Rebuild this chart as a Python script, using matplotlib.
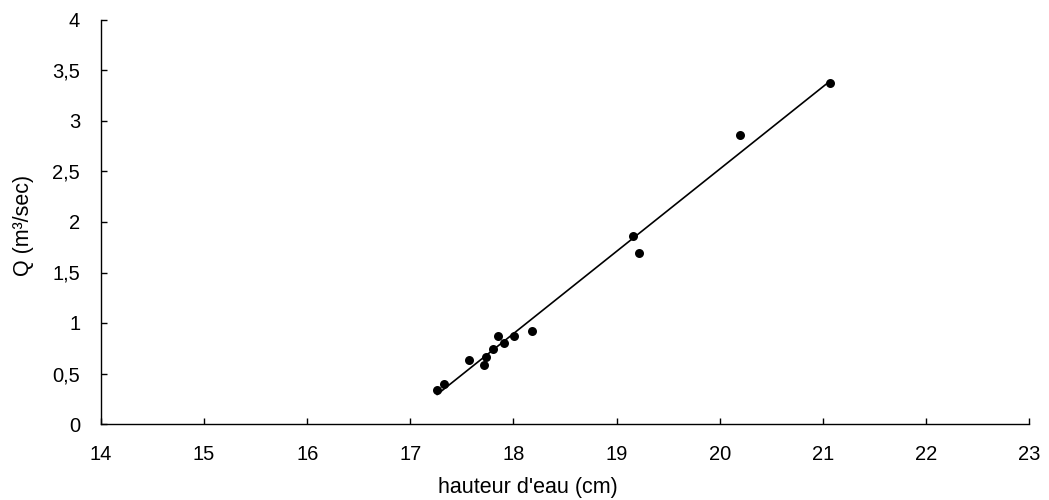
import numpy as np
import matplotlib.pyplot as plt
from matplotlib.ticker import FuncFormatter

plt.rcParams["font.family"] = ["Liberation Sans", "DejaVu Sans"]

# hauteur d'eau (cm) and discharge Q (m3/sec)
hauteur = [17.26, 17.33, 17.57, 17.71, 17.73, 17.80, 17.85, 17.91, 18.01, 18.18,
           19.16, 19.22, 20.20, 21.07]
debit = [0.34, 0.40, 0.63, 0.58, 0.66, 0.74, 0.87, 0.80, 0.87, 0.92,
         1.86, 1.69, 2.86, 3.38]

x_ticks = list(range(14, 24))
y_ticks = [0, 0.5, 1, 1.5, 2, 2.5, 3, 3.5, 4]

W, H = 1049, 500
fig = plt.figure(figsize=(W / 100, H / 100), dpi=100)
ax = fig.add_axes([101 / W, 1 - 424 / H, (1029 - 101) / W, (424 - 20) / H])

ax.scatter(hauteur, debit, s=42, color="black", zorder=3, linewidths=0)

# linear trend line over the data range
coef = np.polyfit(hauteur, debit, 1)
xs = np.array([min(hauteur), max(hauteur)])
ax.plot(xs, np.polyval(coef, xs), color="black", linewidth=1.2)

ax.set_xlim(14, 23)
ax.set_ylim(0, 4)
ax.set_xticks(x_ticks)
ax.set_yticks(y_ticks)
ax.yaxis.set_major_formatter(FuncFormatter(lambda v, p: f"{v:g}".replace(".", ",")))

for side in ("top", "right"):
    ax.spines[side].set_visible(False)
for side in ("left", "bottom"):
    ax.spines[side].set_color("black")
    ax.spines[side].set_linewidth(1.0)
ax.tick_params(direction="in", length=4.5, width=1.0, labelsize=14.5, colors="black")
ax.tick_params(axis="x", pad=15)
ax.tick_params(axis="y", pad=15)

fig.text(528 / W, 1 - 493 / H, "hauteur d'eau (cm)", fontsize=15.5,
         ha="center", va="baseline")
fig.text(23.5 / W, 1 - 225 / H, "Q (m³/sec)", fontsize=15.5, rotation=90,
         ha="center", va="center")

fig.savefig("out.png", dpi=100)
